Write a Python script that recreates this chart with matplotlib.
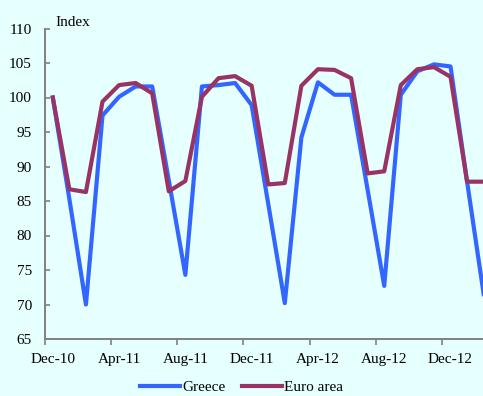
import matplotlib
matplotlib.use("Agg")
import matplotlib.pyplot as plt
import numpy as np

# monthly index, Dec-10 .. Feb-13
months = ["Dec-10", "Jan-11", "Feb-11", "Mar-11", "Apr-11", "May-11", "Jun-11",
          "Jul-11", "Aug-11", "Sep-11", "Oct-11", "Nov-11", "Dec-11", "Jan-12",
          "Feb-12", "Mar-12", "Apr-12", "May-12", "Jun-12", "Jul-12", "Aug-12",
          "Sep-12", "Oct-12", "Nov-12", "Dec-12", "Jan-13", "Feb-13"]
greece = [100.0, 85.3, 70.0, 97.4, 100.1, 101.6, 101.6, 88.0, 74.3, 101.6, 101.8,
          102.1, 98.9, 84.6, 70.2, 94.2, 102.2, 100.4, 100.4, 86.6, 72.7, 100.4,
          103.8, 104.8, 104.5, 87.8, 71.5]
euro_area = [100.0, 86.7, 86.3, 99.4, 101.8, 102.1, 100.6, 86.4, 87.9, 100.1, 102.8,
             103.1, 101.7, 87.4, 87.6, 101.7, 104.1, 104.0, 102.8, 89.0, 89.3, 101.8,
             104.1, 104.4, 103.0, 87.8, 87.8]
tick_labels = ["Dec-10", "Apr-11", "Aug-11", "Dec-11", "Apr-12", "Aug-12", "Dec-12"]

bg = "#E6FFFF"
plt.rcParams["font.family"] = ["Liberation Serif", "DejaVu Serif"]
plt.rcParams["font.size"] = 11

fig = plt.figure(figsize=(4.83, 3.96), dpi=100, facecolor=bg)
W, H = 483, 396
ax = fig.add_axes([44.5 / W, 1 - 339 / H, (W - 44.5) / W, (339 - 28.5) / H])
ax.set_facecolor(bg)

x = np.arange(len(months))
ax.plot(x, greece, color="#3366FF", lw=3.0, label="Greece")
ax.plot(x, euro_area, color="#993366", lw=3.0, label="Euro area")

ax.set_ylim(65, 110)
ax.set_yticks(np.arange(65, 111, 5))
ax.set_xlim(-0.5, 25.96)

# tick marks between months, labels under the month itself
ax.set_xticks(np.arange(-0.5, 26, 4))
ax.set_xticklabels([])
ax.set_xticks(np.arange(0, len(tick_labels) * 4, 4), minor=True)
ax.set_xticklabels(tick_labels, minor=True)
ax.tick_params(axis="x", which="major", direction="out", length=4, width=1.2, color="#808080")
ax.tick_params(axis="x", which="minor", length=0, pad=10)
ax.tick_params(axis="y", direction="in", length=3.5, width=1.2, color="#808080", pad=9)

for s in ["top", "right"]:
    ax.spines[s].set_visible(False)
for s in ["left", "bottom"]:
    ax.spines[s].set_color("#808080")
    ax.spines[s].set_linewidth(1.4)

fig.text(55 / W, 1 - 26 / H, "Index", ha="left", va="baseline")

fig.legend(loc="center", bbox_to_anchor=(0.5, 1 - 387 / H), ncol=2, frameon=False,
           handlelength=2.6, handletextpad=0.15, columnspacing=1.1, borderpad=0)

fig.savefig("out.png", dpi=100, facecolor=bg)
